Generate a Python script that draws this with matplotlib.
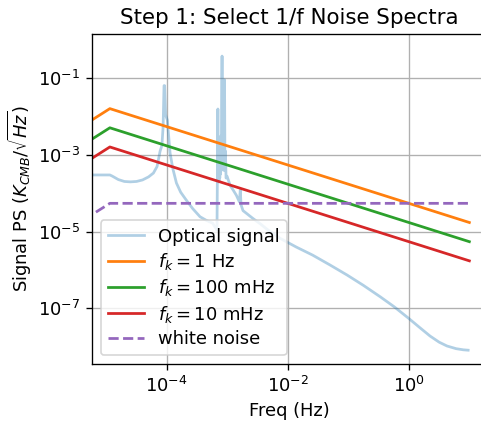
import matplotlib
matplotlib.use("Agg")
import matplotlib.pyplot as plt
from matplotlib.ticker import NullLocator

# Optical signal spectrum (Hz, K_CMB/sqrt(Hz))
optical_freq = [5.82e-6, 1.148e-5, 1.259e-5, 1.585e-5, 1.995e-5, 2.512e-5, 3.162e-5,
                3.981e-5, 5.012e-5, 6.026e-5, 6.918e-5, 7.762e-5, 8.318e-5, 8.710e-5,
                9.016e-5, 9.226e-5, 9.550e-5, 1.023e-4, 1.135e-4, 1.259e-4, 1.445e-4,
                1.698e-4, 2.089e-4, 2.692e-4, 3.548e-4, 4.467e-4, 5.754e-4, 6.761e-4,
                6.998e-4, 7.079e-4, 7.194e-4, 7.295e-4, 7.413e-4, 7.516e-4, 7.621e-4,
                7.727e-4, 7.852e-4, 7.962e-4, 8.204e-4, 8.318e-4, 8.433e-4, 8.551e-4,
                8.670e-4, 8.790e-4, 9.016e-4, 9.162e-4, 9.333e-4, 9.550e-4, 9.886e-4,
                1.122e-3, 1.259e-3, 1.413e-3, 1.585e-3, 1.641e-3, 1.690e-3, 1.820e-3,
                2.630e-3, 3.548e-3, 4.571e-3, 7.413e-3, 1.380e-2, 2.570e-2, 5.012e-2,
                9.550e-2, 0.1778, 0.3388, 0.5754, 0.9772, 1.514, 2.239, 3.162, 4.266,
                6.026, 7.943, 9.55]
optical_psd = [3.020e-4, 3.020e-4, 2.818e-4, 2.291e-4, 2.042e-4, 1.995e-4, 2.042e-4,
               2.239e-4, 2.692e-4, 3.388e-4, 5.012e-4, 1.259e-3, 1.778e-3, 5.495e-3,
               6.457e-2, 6.457e-2, 1.122e-2, 8.128e-3, 1.122e-3, 4.467e-4, 1.862e-4,
               1.072e-4, 6.761e-5, 3.981e-5, 2.455e-5, 1.995e-5, 1.660e-5, 1.096e-5,
               1.585e-2, 1.995e-4, 1.585e-3, 1.995e-4, 1.995e-3, 2.512e-4, 2.512e-3,
               3.162e-4, 3.162e-3, 3.981e-4, 0.3802, 6.310e-4, 1.259e-2, 5.012e-4,
               2.512e-3, 3.981e-4, 9.120e-2, 3.981e-4, 1.259e-3, 2.512e-4, 2.818e-4,
               1.585e-4, 1.202e-4, 8.913e-5, 6.026e-5, 1.202e-4, 5.012e-5, 3.548e-5,
               2.239e-5, 1.585e-5, 1.148e-5, 6.761e-6, 3.981e-6, 2.455e-6, 1.349e-6,
               7.413e-7, 3.981e-7, 1.995e-7, 1.096e-7, 5.623e-8, 3.162e-8, 1.905e-8,
               1.318e-8, 1.047e-8, 8.913e-9, 8.318e-9, 8.128e-9]

# 1/f noise spectra
noise_freq = [6.03e-6, 1.148e-5, 10.0]
fk_1hz = [8.51e-3, 1.622e-2, 1.738e-5]
fk_100mhz = [2.69e-3, 5.129e-3, 5.495e-6]
fk_10mhz = [8.51e-4, 1.622e-3, 1.738e-6]

white_freq = [6.76e-6, 1.148e-5, 10.0]
white_psd = [3.24e-5, 5.495e-5, 5.495e-5]

labels = ["Optical signal", r"$f_k = 1$ Hz", r"$f_k = 100$ mHz",
          r"$f_k = 10$ mHz", "white noise"]

plt.rcParams["font.size"] = 10.7
plt.rcParams["axes.titlesize"] = 12.8
plt.rcParams["lines.linewidth"] = 1.65

fig = plt.figure(figsize=(481 / 120, 421 / 120), dpi=120)
ax = fig.add_axes([92 / 481, 57 / 421, 394 / 481, 330 / 421])

ax.loglog(optical_freq, optical_psd, color="C0", alpha=0.35, label=labels[0])
ax.loglog(noise_freq, fk_1hz, color="C1", label=labels[1])
ax.loglog(noise_freq, fk_100mhz, color="C2", label=labels[2])
ax.loglog(noise_freq, fk_10mhz, color="C3", label=labels[3])
ax.loglog(white_freq, white_psd, color="C4", linestyle="--", label=labels[4])

ax.set_xlim(10 ** -5.235, 10 ** 1.275)
ax.set_ylim(10 ** -8.45, 10 ** 0.156)
ax.set_xticks([1e-4, 1e-2, 1e0])
ax.set_yticks([1e-7, 1e-5, 1e-3, 1e-1])
ax.xaxis.set_minor_locator(NullLocator())
ax.yaxis.set_minor_locator(NullLocator())
ax.grid(True)

ax.set_xlabel("Freq (Hz)")
ax.set_ylabel(r"Signal PS ($K_{CMB}/\sqrt{Hz}$)", labelpad=2.5)
ax.set_title("Step 1: Select 1/f Noise Spectra")
ax.legend(loc="lower left", labelspacing=0.3)

fig.savefig("out.png", dpi=120)
